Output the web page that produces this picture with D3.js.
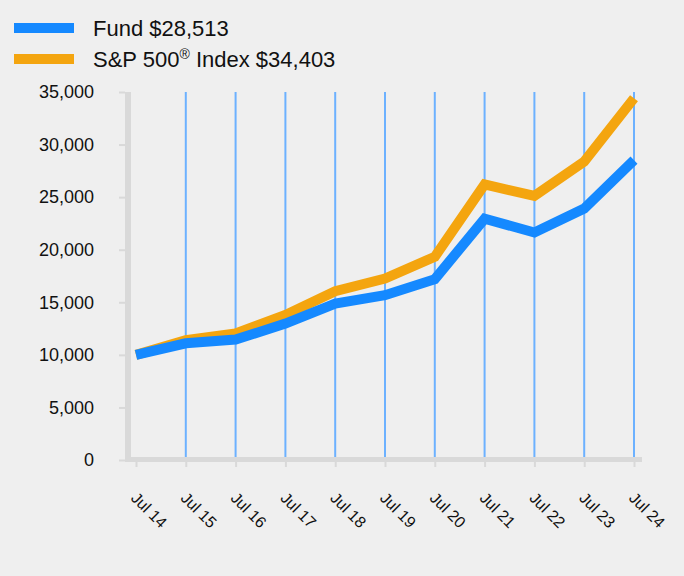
<!DOCTYPE html>
<html><head><meta charset="utf-8">
<script src="https://cdn.jsdelivr.net/npm/d3@7"></script>
<style>
html,body{margin:0;padding:0;background:#efefef;}
svg{display:block;font-family:Arial,"Liberation Sans",sans-serif;}
</style></head>
<body>
<svg id="chart" width="684" height="576"></svg>
<script>
const categories = ["Jul 14","Jul 15","Jul 16","Jul 17","Jul 18","Jul 19","Jul 20","Jul 21","Jul 22","Jul 23","Jul 24"];
const fundValues = [10000,11100,11450,12980,14880,15680,17200,22950,21640,23920,28513];
const spValues   = [10000,11400,12030,13790,16060,17260,19330,26220,25110,28380,34403];
const yTicks = [0,5000,10000,15000,20000,25000,30000,35000];
const seriesNames = ["Fund $28,513","S&P 500","® Index $34,403"];
const colors = {fund:"#1589ff", sp:"#f4a50f"};

const svg = d3.select("#chart");
const x = d3.scalePoint().domain(categories).range([136,634]);
const y = d3.scaleLinear().domain([0,35000]).range([460,92]);

// gridlines
svg.append("g").selectAll("line").data(categories.slice(1)).join("line")
  .attr("x1",d=>x(d)).attr("x2",d=>x(d)).attr("y1",y(35000)).attr("y2",457)
  .attr("stroke","#6cb1ff").attr("stroke-width",2);

// y axis
const yAxis = d3.axisLeft(y).tickValues(yTicks).tickFormat(d3.format(",")).tickSize(6).tickPadding(25);
const gy = svg.append("g").attr("transform","translate(125,0)").call(yAxis);
gy.select(".domain").remove();
gy.selectAll(".tick line").attr("stroke","#d9d9d9").attr("stroke-width",2);
gy.selectAll(".tick text").attr("font-size",18).attr("fill","#111").attr("font-family","Arial, 'Liberation Sans', sans-serif");
svg.append("line").attr("x1",128).attr("x2",128).attr("y1",y(35000)).attr("y2",462)
  .attr("stroke","#d9d9d9").attr("stroke-width",6);

// x axis
const xAxis = d3.axisBottom(x).tickSize(6).tickFormat("");
const gx = svg.append("g").attr("transform","translate(0,461)").call(xAxis);
gx.select(".domain").remove();
gx.selectAll(".tick line").attr("stroke","#d9d9d9").attr("stroke-width",2);
svg.append("line").attr("x1",125).attr("x2",642).attr("y1",459.5).attr("y2",459.5)
  .attr("stroke","#d9d9d9").attr("stroke-width",5);

svg.append("g").selectAll("text").data(categories).join("text")
  .attr("transform",d=>`translate(${x(d)-2},${495}) rotate(45)`)
  .attr("font-size",16).attr("fill","#111").attr("dy","0.35em")
  .text(d=>d);

// lines
const line = d3.line().x((d,i)=>x(categories[i])).y(d=>y(d));
svg.append("path").datum(spValues).attr("d",line).attr("fill","none")
  .attr("stroke",colors.sp).attr("stroke-width",10).attr("stroke-linejoin","miter");
svg.append("path").datum(fundValues).attr("d",line).attr("fill","none")
  .attr("stroke",colors.fund).attr("stroke-width",10).attr("stroke-linejoin","miter");

// legend
const lg = svg.append("g");
lg.append("line").attr("x1",14).attr("x2",74).attr("y1",28).attr("y2",28).attr("stroke",colors.fund).attr("stroke-width",10);
lg.append("line").attr("x1",14).attr("x2",74).attr("y1",59).attr("y2",59).attr("stroke",colors.sp).attr("stroke-width",10);
lg.append("text").attr("x",93).attr("y",35.5).attr("font-size",22).attr("fill","#111").text(seriesNames[0]);
const t2 = lg.append("text").attr("x",93).attr("y",67).attr("font-size",22).attr("fill","#111");
t2.append("tspan").text(seriesNames[1]);
t2.append("tspan").attr("font-size",14).attr("dy",-8).text("®");
t2.append("tspan").attr("dy",8).text(seriesNames[2].slice(1));
</script>
</body></html>
